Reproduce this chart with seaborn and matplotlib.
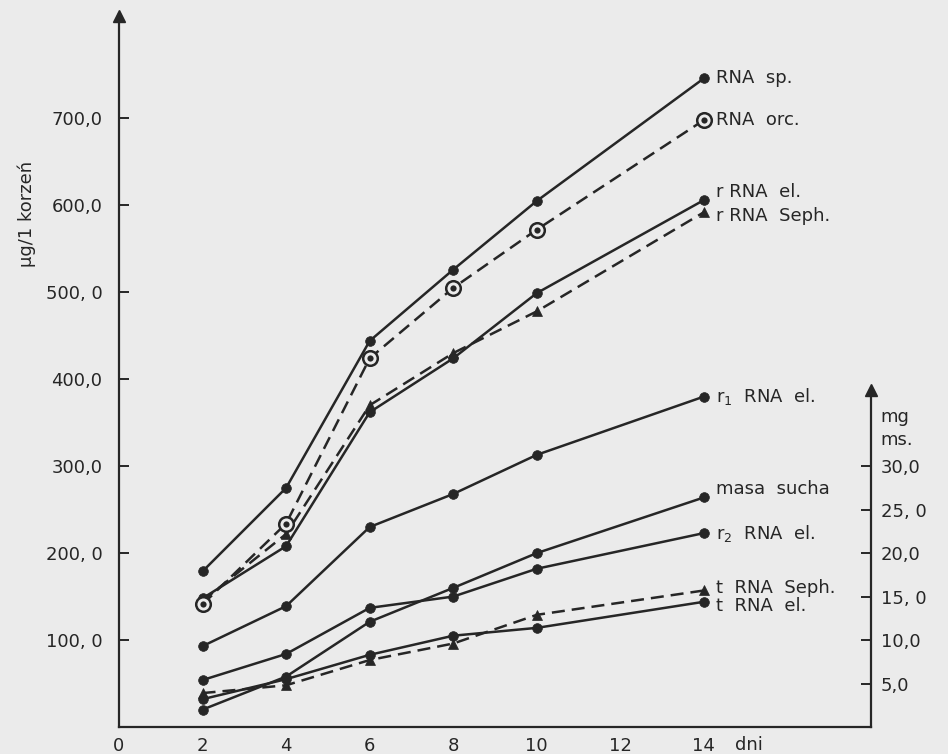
import matplotlib
matplotlib.use("Agg")
import matplotlib.pyplot as plt
import seaborn as sns

# days of growth
days = [2, 4, 6, 8, 10, 14]

# left axis, ug per root
rna_sp = [179, 275, 444, 526, 605, 746]
rna_orc = [141, 234, 424, 505, 572, 698]
r_rna_el = [148, 208, 362, 424, 499, 606]
r_rna_seph = [145, 222, 370, 430, 478, 592]
r1_rna_el = [93, 139, 230, 268, 313, 380]
r2_rna_el = [54, 84, 137, 150, 182, 223]
t_rna_seph = [39, 48, 77, 96, 129, 157]
t_rna_el = [32, 55, 83, 105, 114, 144]

# right axis, mg dry mass
masa_sucha = [2.0, 5.8, 12.1, 16.0, 20.0, 26.4]

left_ticks = [100, 200, 300, 400, 500, 600, 700]
left_labels = ["100, 0", "200, 0", "300,0", "400,0", "500, 0", "600,0", "700,0"]
right_ticks = [5, 10, 15, 20, 25, 30]
right_labels = ["5,0", "10,0", "15, 0", "20,0", "25, 0", "30,0"]
x_ticks = [0, 2, 4, 6, 8, 10, 12, 14]

bg = "#ebebeb"
ink = "#262626"

sns.set_style("white")
plt.rcParams["font.family"] = ["DejaVu Sans"]

fig = plt.figure(figsize=(9.48, 7.54), dpi=100, facecolor=bg)
ax = fig.add_axes([119 / 948, 27 / 754, 752 / 948, 713 / 754])
ax.set_facecolor(bg)
ax2 = ax.twinx()
ax2.set_facecolor("none")

solid = "-"
dashed = (0, (5.2, 2.8))
lw = 1.8

def draw(axis, y, ls, marker, ms):
    sns.lineplot(x=days, y=y, ax=axis, color=ink, linewidth=lw, linestyle=ls,
                 marker=marker, markersize=ms, markeredgecolor=ink,
                 markerfacecolor=ink, markeredgewidth=0.5)

draw(ax, rna_sp, solid, "o", 7)
draw(ax, r_rna_el, solid, "o", 7)
draw(ax, r_rna_seph, dashed, "^", 7)
draw(ax, r1_rna_el, solid, "o", 7)
draw(ax, r2_rna_el, solid, "o", 7)
draw(ax, t_rna_seph, dashed, "^", 7.5)
draw(ax, t_rna_el, solid, "o", 7)
draw(ax2, masa_sucha, solid, "o", 7)

# RNA orc. - ringed marker with a dot inside
sns.lineplot(x=days, y=rna_orc, ax=ax, color=ink, linewidth=lw, linestyle=dashed,
             marker="o", markersize=10.5, markeredgecolor=ink, markerfacecolor=bg,
             markeredgewidth=1.8)
sns.scatterplot(x=days, y=rna_orc, ax=ax, color=ink, s=20, linewidth=0, zorder=5)

# axes look
ax.set_xlim(0, 18)
ax.set_ylim(0, 820)
ax2.set_ylim(0, 82)
for s in ["top", "right"]:
    ax.spines[s].set_visible(False)
for s in ["top", "left", "bottom"]:
    ax2.spines[s].set_visible(False)
for sp in [ax.spines["left"], ax.spines["bottom"], ax2.spines["right"]]:
    sp.set_color(ink)
    sp.set_linewidth(1.6)
ax2.spines["right"].set_bounds(0, 38.5)

ax.set_xticks(x_ticks)
ax.set_xticklabels([str(t) for t in x_ticks])
ax.set_yticks(left_ticks)
ax.set_yticklabels(left_labels)
ax2.set_yticks(right_ticks)
ax2.set_yticklabels(right_labels)
ax.tick_params(axis="both", direction="in", length=7, width=1.4, colors=ink,
               labelsize=13)
ax.tick_params(axis="y", pad=12)
ax.tick_params(axis="x", pad=7)
ax2.tick_params(axis="y", direction="in", length=7, width=1.4, colors=ink,
                labelsize=13, pad=7)
ax.xaxis.get_major_ticks()[0].tick1line.set_visible(False)
ax.set_xlabel("")
ax.set_ylabel("")
ax2.set_ylabel("")

# arrow heads on the vertical axes
ax.plot([0], [818], marker="^", ms=9, color=ink, clip_on=False)
ax2.plot([18], [38.8], marker="^", ms=8, color=ink, clip_on=False)

# series names next to the last points
names = [
    ("RNA  sp.", rna_sp[-1], 0),
    ("RNA  orc.", rna_orc[-1], 0),
    ("r RNA  el.", r_rna_el[-1], 8),
    ("r RNA  Seph.", r_rna_seph[-1], -4),
    ("r$_1$  RNA  el.", r1_rna_el[-1], 0),
    ("masa  sucha", masa_sucha[-1] * 10, 8),
    ("r$_2$  RNA  el.", r2_rna_el[-1], 0),
    ("t  RNA  Seph.", t_rna_seph[-1], 2),
    ("t  RNA  el.", t_rna_el[-1], -4),
]
for label, yv, dy in names:
    ax.annotate(label, xy=(14, yv), xytext=(12, dy), textcoords="offset pixels",
                ha="left", va="center", fontsize=13, color=ink)

fig.text(735 / 948, 1 - 745 / 754, "dni", ha="left", va="center",
         fontsize=13, color=ink)
fig.text(880 / 948, 1 - 417 / 754, "mg", ha="left", va="center",
         fontsize=13, color=ink)
fig.text(880 / 948, 1 - 440 / 754, "ms.", ha="left", va="center",
         fontsize=13, color=ink)
fig.text(27 / 948, 1 - 214 / 754, "µg/1 korzeń", rotation=90, ha="center",
         va="center", fontsize=13, color=ink)

fig.savefig("out.png", dpi=100, facecolor=bg)
